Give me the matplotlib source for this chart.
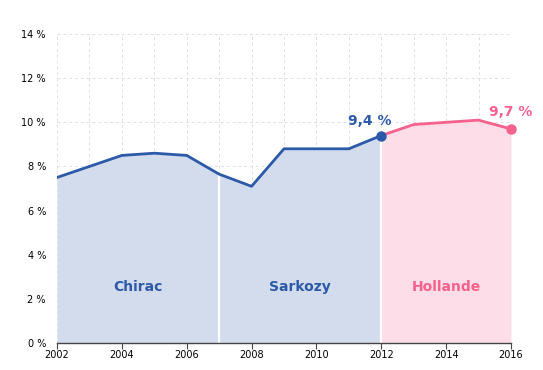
import numpy as np
import matplotlib
matplotlib.use("Agg")
import matplotlib.pyplot as plt

years = [2002, 2003, 2004, 2005, 2006, 2007, 2008, 2009, 2010, 2011, 2012, 2013, 2014, 2015, 2016]
rate = [7.5, 8.0, 8.5, 8.6, 8.5, 7.65, 7.1, 8.8, 8.8, 8.8, 9.4, 9.9, 10.0, 10.1, 9.7]
presidents = ["Chirac", "Sarkozy", "Hollande"]
terms = [(2002, 2007), (2007, 2012), (2012, 2016)]

BLUE, BLUE_FILL = "#2c5aa9", "#d3dced"
PINK, PINK_FILL = "#f7618e", "#fddde7"

fig = plt.figure(figsize=(5.43, 3.70), dpi=100)
ax = fig.add_axes([0.105, 0.073, 0.836, 0.835])

x = np.array(years)
y = np.array(rate)
for (a, b), name in zip(terms, presidents):
    m = (x >= a) & (x <= b)
    fill = PINK_FILL if name == "Hollande" else BLUE_FILL
    ax.fill_between(x[m], 0, y[m], color=fill, lw=0, zorder=1)
    col = PINK if name == "Hollande" else BLUE
    ax.text((a + b) / 2, 2.55, name, ha="center", va="center", color=col,
            fontsize=10, fontweight="bold", zorder=4)
# white separators between terms
for b in [2007, 2012]:
    ax.plot([b, b], [0, rate[years.index(b)] - 0.1], color="white", lw=1.6, zorder=2)

mb = x <= 2012
ax.plot(x[mb], y[mb], color=BLUE, lw=2.0, zorder=3, solid_capstyle="round")
mp = x >= 2012
ax.plot(x[mp], y[mp], color=PINK, lw=2.0, zorder=3, solid_capstyle="round")
ax.plot(2012, rate[years.index(2012)], "o", color=BLUE, ms=6.5, zorder=5, clip_on=False)
ax.plot(2016, rate[-1], "o", color=PINK, ms=6.5, zorder=5, clip_on=False)
ax.text(2011.65, 9.72, "9,4 %", ha="center", va="bottom", color=BLUE, fontsize=10, fontweight="bold")
ax.text(2016.0, 10.15, "9,7 %", ha="center", va="bottom", color=PINK, fontsize=10, fontweight="bold")

ax.set_xlim(2002, 2016)
ax.set_ylim(0, 14)
ax.set_xticks(range(2002, 2017, 2))
ax.set_xticks(range(2002, 2017), minor=True)
ax.set_yticks(range(0, 15, 2))
ax.set_yticklabels([f"{v} %" for v in range(0, 15, 2)])
ax.grid(True, which="both", axis="x", color="#e0e0e0", ls=(0, (3, 3)), lw=0.7, zorder=0)
ax.grid(True, which="major", axis="y", color="#e0e0e0", ls=(0, (3, 3)), lw=0.7, zorder=0)
ax.set_axisbelow(True)
for s in ["top", "right", "left"]:
    ax.spines[s].set_visible(False)
ax.spines["bottom"].set_color("#444444")
ax.spines["bottom"].set_linewidth(1.0)
ax.tick_params(axis="x", which="major", length=4, color="#444444", labelsize=7, pad=1)
ax.tick_params(axis="x", which="minor", length=0)
ax.tick_params(axis="y", length=0, labelsize=7, pad=8)

plt.savefig("out.png", dpi=100)
